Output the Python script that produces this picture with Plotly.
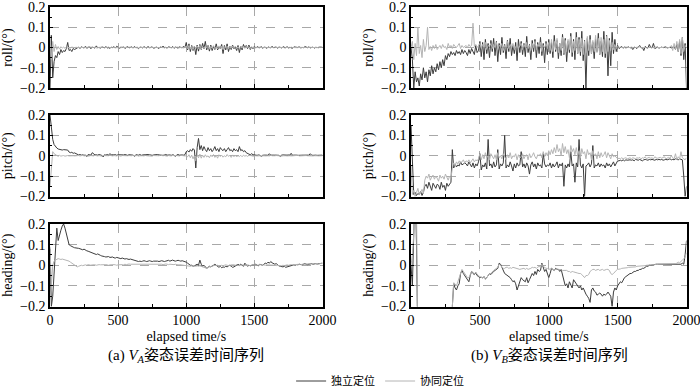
import plotly.graph_objects as go

# ---------------- data (values in milli-degrees, sampled every 10 s) ----------------
T = list(range(0, 2001, 10))

roll_a_ind = [-200, 60, -150, -70, -40, -50, -20, -35, -10, -25, -15, -20, -5, 25, -15, -10, -20, -5, -10, -5,
    -3, 2, -5, 4, 0, -2, 6, -4, 1, 3, -6, 2, 0, -3, 8, -2, 1, -4, 3, 0,
    -2, 5, -3, 1, -5, 2, 0, 4, -3, 6, -1, -4, 2, 0, 3, -5, 1, 4, -2, 0,
    3, -3, 5, -1, 0, -6, 2, 1, -2, 4, 0, -3, 6, -2, 1, 3, -4, 0, 2, -1,
    -5, 3, 0, 7, -2, 1, -3, 4, 0, -2, 5, -4, 2, 0, -3, 3, 1, -2, 6, -1,
    25, -12, 18, -20, 10, -15, 6, -35, 12, -18, 15, -10, 20, -6, 30, -12, 10, -18, 12, -15,
    6, -10, 18, -12, 3, -6, 15, -30, 10, -12, 18, -20, 6, -10, 12, -6, 3, -15, 10, -25,
    6, -12, 15, -3, 10, -6, 12, -10, 3, -6, 6,
    -3, 4, 0, -2, 5, -4, 1, 2, -5, 3, 0, -2, 6, -1, 0, 3, -4, 2, 1, -3,
    4, 0, -2, 5, -3, 1, 0, -4, 3, 2, -1, 0, 4, -3, 1, -2, 5, 0, -1, 3,
    -2, 0, 2, -3, 1, 0, -1, 2, 0, 1]

roll_a_coop = [60, -60, 30, -20, 15, -10, 5, -8, 4, -3, 2, -4, 3, -2, 1, -3, 2, 0, -1, 1,
    0, 1, -1, 2, 0, -2, 1, 0, -1, 1, 2, -1, 0, 1, -2, 0, 1, -1, 0, 2,
    -1, 0, 1, -2, 1, 0, -1, 2, 0, -1, 1, 0, -2, 1, 0, 1, -1, 0, 2, -1,
    0, 1, -1, 0, 2, -2, 1, 0, -1, 1, 0, -1, 2, 0, -1, 1, 0, -2, 1, 0,
    -1, 2, 0, -1, 1, 0, -2, 1, 2, -1, 0, 1, -1, 0, 2, -1, 0, 1, -2, 0,
    8, -6, 10, -8, 5, -10, 6, -4, 8, -6, 10, -7, 4, -5, 7, -3, 6, -8, 5, -4,
    9, -6, 3, -6, 8, -5, 6, -10, 4, -3, 7, -6, 5, -4, 8, -2, 6, -5, 3, -7,
    6, -4, 5, -3, 6, -2, 4, -5, 3, -2, 2,
    0, 1, -1, 2, 0, -1, 1, 0, -2, 1, 0, 1, -1, 0, 2, -1, 0, 1, -1, 0,
    1, -2, 0, 1, 0, -1, 2, 0, -1, 1, 0, -1, 1, 0, 2, -1, 0, 1, -1, 0,
    1, 0, -1, 1, 0, -1, 2, 0, 1, 0]

pitch_a_ind = [200, 130, 80, 55, 45, 38, 33, 30, 30, 28, 30, 29, 30, 28, 18, 15, 17, 12, 14, 10,
    5, 4, 6, 3, 5, 2, 4, -4, 6, 5, 3, 15, 8, 4, 5, 3, 6, 4, 2, -6,
    5, 3, 6, 4, 10, 5, 3, 4, 6, 2, 5, 4, 3, 5, 4, 6, 3, 2, 5, 4,
    6, 3, -3, 5, 4, 3, 6, 2, 4, 5, 3, 4, 6, 5, 3, 2, 4, 5, 3, 6,
    4, 3, 5, 2, 4, 6, 3, 5, 4, 2, 5, 3, -4, 4, 6, 3, 5, 4, 3, 5,
    20, 25, 18, 30, 22, 35, 28, -60, 40, 85, 30, 50, 25, 45, 30, 20, 40, 25, 35, 20,
    30, 45, 25, 35, 20, 40, 30, 25, 35, 20, 30, 40, 25, 30, 20, 35, 25, 30, 20, 45,
    25, 30, 20, 25, 15, 10, 8, 5, 10, 5, 3,
    3, 2, 4, 3, -4, 2, 3, 4, 3, 2, 10, 3, 4, 2, 3, 3, 4, 2, -3, 3,
    4, 3, 2, 3, 4, 3, 12, 2, 3, 4, 3, 2, 3, 4, 2, 3, 3, 4, 2, 3,
    10, 3, 2, 4, 3, 2, 3, 4, 3, 3]

pitch_a_coop = [-150, -50, 20, 10, 5, 0, -3, 2, -2, 0, 1, -2, 0, 1, -1, 0, 2, 0, -1, 0,
    0, 1, -1, 0, 2, -1, 0, 1, -2, 0, 1, 0, -1, 2, 0, -1, 1, 0, -2, 1,
    0, 1, -1, 0, 2, 0, -1, 1, 0, -1, 2, 0, -2, 1, 0, 1, -1, 0, 1, -1,
    0, 2, -1, 0, 1, -2, 0, 1, 0, -1, 2, 0, -1, 1, 0, -2, 1, 0, 1, -1,
    0, 2, -1, 0, 1, 0, -2, 1, 0, -1, 2, 0, -1, 1, 0, -1, 2, 0, 1, -1,
    0, -5, 5, -10, 3, -15, 0, -25, 5, -10, 8, -12, 3, -8, 5, -6, 0, -10, 4, -5,
    6, -8, 2, -12, 5, -4, 3, -7, 0, -5, 6, -3, 2, -8, 4, -5, 3, -6, 1, -4,
    2, -5, 3, -2, 1, -3, 2, -1, 0, -2, 1,
    0, -1, 1, 0, -2, 1, 0, -1, 1, 0, -1, 2, 0, -1, 0, 1, -1, 0, 1, -2,
    0, 1, 0, -1, 1, 0, -1, 0, 1, -1, 0, 2, -1, 0, 1, -1, 0, 1, 0, -1,
    1, 0, -1, 0, 1, 0, -1, 1, 0, 0]

heading_a_ind = [80, -200, -150, -50, 50, 180, 120, 150, 170, 190, 200, 180, 150, 120, 100, 95, 90, 88, 85, 85,
    85, 82, 80, 78, 75, 78, 72, 70, 68, 65, 62, 60, 58, 55, 52, 55, 50, 48, 45, 45,
    42, 40, 40, 42, 38, 38, 40, 36, 35, 38, 35, 34, 32, 35, 32, 30, 32, 30, 28, 30,
    28, 25, 25, 22, 20, 18, 20, 18, 20, 22, 20, 18, 20, 22, 20, 18, 20, 20, 22, 20,
    18, 20, 22, 20, 18, 20, 22, 24, 20, 22, 25, 22, 20, 22, 24, 22, 20, 22, 20, 18,
    15, 10, 5, 0, 0, -5, -3, 0, 5, 0, 25, 5, -5, 0, -10, -15, -10, -5, -8, -5,
    0, 5, 0, -5, -10, -5, -12, -8, -10, -5, -8, -3, 0, -5, -10, -8, -5, 0, 5, 0,
    5, 0, -5, 10, 0, -5, 0, -3, 0, 2, 0, 5, 0, -3, 5, 2, 0, 5, 10, 8,
    15, 10, 18, 12, 10, 5, 8, 0, -3, -5, -8, -8, -5, -10, -8, -5, -3, 0, 0, 2,
    0, 3, 2, 5, 3, 2, 5, 8, 5, 3, 5, 6, 8, 5, 7, 8, 6, 8, 10, 9, 10]

heading_a_coop = [90, -100, 0, 20, 25, 30, 32, 30, 28, 30, 28, 26, 25, 22, 20, 15, 10, 5, 0, -5,
    -8, -5, -3, 0, -2, 0, 2, 0, 3, 2, 0, 2, 3, 2, 0, 2, 3, 2, 3, 2,
    2, 3, 2, 0, 2, 3, 2, 3, 2, 0, 2, 3, 5, 3, 2, 5, 3, 5, 6, 5,
    5, 6, 5, 8, 6, 5, 6, 8, 5, 6, 5, 6, 8, 6, 5, 6, 8, 6, 5, 6,
    5, 6, 5, 3, 5, 6, 5, 3, 5, 4, 5, 3, 5, 3, 2, 3, 2, 0, 2, 0,
    0, -2, -3, -5, -3, -5, -3, -5, -3, -5, -3, -5, -8, -10, -12, -15, -10, -8, -5, -3,
    -3, 0, -2, 0, -2, -3, 0, -2, 0, 2, 0, -2, 0, 2, 3, 2, 0, 2, 0, -2,
    0, 2, 0, -2, 0, 2, 0, -2, 0, 2, 0, 2, 0, 2, 3, 2, 0, 2, 0, 2,
    2, 3, 2, 0, 2, 0, -2, 0, -2, -3, -2, 0, -2, 0, 2, 0, 2, 3, 2, 3,
    3, 5, 3, 5, 3, 5, 6, 5, 6, 5, 6, 8, 6, 8, 6, 8, 8, 6, 8, 9, 10]

roll_b_ind = [0, -60, -200, -120, -170, -150, -190, -130, -160, -100, -150, -120, -170, -110, -140, -90, -130, -100, -120, -80,
    -110, -70, -100, -60, -90, -40, -60, -30, -45, -20, -35, -25, -40, -15, -30, -20, -35, -10, -30, -15,
    -25, -40, -10, -30, -5, -20, -35, 10, -25, -15, 30, -45, 25, -60, 40, -30, 20, -50, 35, -20,
    45, -40, 30, -70, 20, -35, 50, -25, 15, -55, 35, -20, 45, -40, 10, -30, 25, -65, 40, -25,
    30, -35, 20, -45, 55, -25, 15, -60, 35, -20, 40, -50, 25, -30, 50, -40, 20, -75, 30, -35,
    40, -30, 25, -50, 60, -20, 35, -55, 20, -40, 65, -35, 45, -70, 30, -25, 70, -45, 40, -60,
    75, -30, 50, -40, 80, -65, 35, -200, 45, -40, 60, -30, 25, -55, 40, -20, 70, -35, 30, -45,
    80, -50, 60, -140, 45, -90, 75, -30, 40, -20, 10, -5, 0, 5, -3, 2, -2, 0, 3, -2,
    0, -10, 2, 0, -5, 3, 10, -2, 0, -15, 5, 0, -3, 15, 0, -2, 20, -5, 0, 2,
    -3, 0, 2, -1, 0, 3, -2, 0, 1, -2, 0, 5, -10, 15, -20, 30, -40, 50, -60, 20, -200]

roll_b_coop = [0, 30, -60, 20, -40, 100, -30, 10, -50, 40, -20, 10, 100, -10, 5, -15, 10, -5, 15, -10,
    0, 10, -5, 15, 0, 5, -10, 20, 0, 10, -5, 15, 5, 0, 10, 20, -5, 10, 0, 5,
    10, 0, 15, 5, 10, 120, 5, 15, 0, 10, 20, -5, 15, 0, 25, -10, 10, 5, 20, -5,
    15, 0, 25, -10, 10, 5, 20, -15, 10, 0, 30, -5, 15, 0, 20, -10, 5, 15, -5, 10,
    20, -10, 15, 0, 25, -5, 10, -15, 20, 0, 30, -10, 15, 5, 25, -20, 10, 0, 20, -5,
    25, -15, 40, -20, 30, -10, 45, -25, 20, -15, 50, -30, 35, -20, 40, -10, 55, -25, 30, -15,
    50, -30, 40, -20, 45, -35, 30, -25, 55, -15, 40, -30, 35, -20, 60, -25, 45, -35, 50, -20,
    40, -30, 55, -20, 35, -15, 25, -10, 15, -5, 5, 0, 2, 0, -2, 0, 3, 0, -1, 0,
    2, 0, -2, 0, 1, 0, 3, -1, 0, 2, 0, -2, 0, 1, 0, 2, -1, 0, 3, 0,
    0, 2, -1, 0, 3, -2, 0, 1, 0, 10, -15, 20, -10, 30, -20, 40, -30, 50, -20, 10, 0]

pitch_b_ind = [150, -80, -190, -180, -195, -185, -190, -175, -195, -180, -150, -140, -160, -130, -155, -170, -135, -150, -160, -140,
    -145, -165, -130, -155, -145, -170, -135, -150, -140, -130, 30, -60, -40, -55, -45, -50, -30, -45, -40, -35,
    -40, -50, -30, -45, -55, -35, -60, -40, -50, -30, 10, -70, -45, -55, -35, -65, 80, -50, -40, -60,
    -30, -55, -45, 30, -65, -40, -50, -35, 100, -60, -45, -55, -30, -50, -75, -40, -60, -35, -50, -45,
    20, -55, -40, -60, -35, -50, -90, -45, -30, -55, -40, -65, -35, -50, -45, -60, 10, -40, -55, -45,
    -50, -35, -60, -40, -55, -45, -30, -60, -40, -50, -35, -150, -45, -60, -40, -55, 20, -50, -40, -130,
    -35, -55, 80, -45, -60, -40, -200, -50, -45, -35, -55, -40, 50, -60, -45, -50, -35, -55, -40, -50,
    -45, -60, -35, -50, -40, -55, -45, -30, -50, -40, -25, -25, -22, -25, -20, -25, -20, -22, -20, -20,
    -22, -20, -25, -18, -20, -22, -18, -20, -25, -20, -18, -20, -22, -18, -20, -18, -20, -22, -18, -20,
    -18, -20, -18, -22, -20, -18, -20, -18, -15, -20, -18, -20, -15, -18, -20, -15, -18, -20, -100, -200, -150]

pitch_b_coop = [-50, -190, -170, -200, -180, -160, -190, -175, -165, -185, -120, -100, -110, -90, -120, -105, -95, -115, -100, -110,
    -125, -95, -110, -100, -115, -90, -105, -120, -100, -110, -60, -35, -50, -30, -40, -25, -35, -30, -20, -35,
    -25, -30, -20, -35, -25, -15, -30, -20, -25, -15, 10, -20, 5, -15, 15, -10, 0, -20, 10, -5,
    -15, 5, -20, 15, -10, 0, -15, 10, -5, -20, 5, -10, 15, -15, 0, -5, 10, -20, 5, -10,
    -5, 10, -15, 0, 5, -20, 10, -10, 0, 15, -5, -15, 5, 0, 10, -10, 20, -5, 15, 0,
    25, 5, 30, 10, 40, 15, 55, 20, 35, 0, 60, 15, 45, 10, 30, -10, 50, 20, 35, 5,
    40, 0, 25, -10, 35, 10, 20, -15, 30, 5, 15, -20, 25, 0, 10, -15, 20, -10, 15, -5,
    5, 20, -10, 15, 0, -15, 10, -5, 0, -10, -15, -12, -15, -10, -15, -12, -10, -15, -12, -10,
    -15, -10, -12, -15, -10, -12, -8, -15, -10, -12, -5, -15, -10, -8, -12, -10, -15, -5, -10, -12,
    -10, -8, -12, -10, -5, -15, -10, -8, -12, 0, -10, -15, 10, -20, -5, -15, 20, -10, -15, -20, -10]

heading_b_ind = [0, -100, 150, 400, 100, -400, -500, -500, -500, -500, -500, -500, -500, -500, -500, -500, -500, -500, -500, -500,
    -500, -500, -500, -500, -500, -500, -500, -500, -500, -500, -200, -90, -110, -120, -100, -90, -40, -25, -40, -50,
    -60, -70, -80, -50, -30, -40, -45, -35, -50, -55, -60, -58, -62, -55, -65, -60, -50, -40, -45, -35,
    -30, -25, -20, -15, 10, 5, -10, -30, -40, -45, -50, -55, -60, -70, -80, -75, -90, -120, -100, -70,
    -60, -70, -75, -80, -60, -85, -70, -50, -40, -50, -30, -45, -20, -30, -25, 10, -10, -30, -20, -40,
    -60, -40, -15, -20, -25, -15, -20, -20, -30, -20, -50, -80, -100, -90, -110, -80, -100, -110, -70, -80,
    -90, -100, -110, -100, -120, -110, -130, -140, -150, -160, -180, -120, -110, -125, -130, -145, -140, -135, -140, -150,
    -140, -145, -140, -130, -140, -150, -200, -130, -110, -120, -100, -90, -80, -85, -70, -60, -55, -50, -45, -40,
    -40, -35, -30, -30, -25, -25, -20, -20, -15, -15, -10, -5, -5, 0, 0, 2, 3, 3, 5, 5,
    5, 5, 5, 5, 5, 5, 5, 5, 5, 5, 5, 5, 5, 5, 5, 5, 5, 10, 5, 50, 120]

heading_b_coop = [0, 50, 150, 500, 300, -500, -500, -500, -500, -500, -500, -500, -500, -500, -500, -500, -500, -500, -500, -500,
    -500, -500, -500, -500, -500, -500, -500, -500, -500, -500, -200, -85, -90, -100, -80, -60, -30, -20, -30, -40,
    -50, -60, -60, -40, -30, -35, -40, -35, -45, -50, -55, -60, -62, -55, -70, -60, -50, -40, -40, -30,
    -25, -20, -15, -10, 5, 0, -10, -15, -15, -10, -10, -15, -12, -15, -10, -12, -15, -15, -20, -20,
    -18, -15, -15, -20, -15, -20, -18, -15, -10, -12, -10, -15, -10, -5, -10, 5, -5, -10, -15, -15,
    -20, -18, -15, -20, -22, -20, -18, -20, -20, -22, -25, -25, -28, -25, -30, -30, -35, -30, -32, -35,
    -35, -38, -40, -40, -45, -55, -60, -50, -50, -45, -30, -25, -20, -20, -25, -22, -20, -25, -22, -20,
    -25, -22, -20, -20, -25, -40, -45, -40, -30, -25, -20, -20, -18, -15, -15, -15, -12, -12, -10, -10,
    -10, -8, -8, -8, -5, -5, -5, -5, -3, -3, -2, 0, 0, 2, 2, 3, 3, 3, 5, 5,
    5, 5, 5, 5, 5, 5, 5, 5, 5, 5, 5, 5, 8, 10, 15, 12, 20, 25, 30, 40, 60]

Y_TITLES = ["roll/(°)", "pitch/(°)", "heading/(°)"]
SERIES_NAMES = ["独立定位", "协同定位"]
X_TICKS = [0, 500, 1000, 1500, 2000]
Y_TICKS = [-0.2, -0.1, 0, 0.1, 0.2]
Y_TICKTEXT = ["−0.2", "−0.1", "0", "0.1", "0.2"]

panels = [
    [(roll_a_ind, roll_a_coop), (roll_b_ind, roll_b_coop)],
    [(pitch_a_ind, pitch_a_coop), (pitch_b_ind, pitch_b_coop)],
    [(heading_a_ind, heading_a_coop), (heading_b_ind, heading_b_coop)],
]

# ---------------- layout geometry ----------------
W, H = 700, 388
col_x = [(50 / W, 322.5 / W), (411 / W, 686.5 / W)]
row_y = [(1 - 88 / H, 1 - 7 / H), (1 - 196.5 / H, 1 - 115 / H), (1 - 306.5 / H, 1 - 224 / H)]
DARK = "#3c3c3c"
LIGHT = "#b4b4b4"
SERIF = "Liberation Serif, Times New Roman, serif"
CJK = "Noto Sans CJK SC"

fig = go.Figure()
layout = {}
k = 0
for r in range(3):
    for c in range(2):
        k += 1
        xa = "x" if k == 1 else f"x{k}"
        ya = "y" if k == 1 else f"y{k}"
        ind, coop = panels[r][c]
        for vals, color, name in ((ind, DARK, SERIES_NAMES[0]), (coop, LIGHT, SERIES_NAMES[1])):
            fig.add_trace(go.Scatter(
                x=T, y=[v / 1000 for v in vals], mode="lines", name=name,
                line=dict(color=color, width=1), xaxis=xa, yaxis=ya,
                showlegend=(k == 1), legendgroup=name,
            ))
        xaxis = dict(
            domain=col_x[c], anchor=ya, range=[0, 2000], automargin=False,
            tickvals=X_TICKS, showticklabels=(r == 2), ticklabeloverflow="allow",
            ticks="inside", ticklen=4, tickcolor="black",
            minor=dict(dtick=250, ticks="inside", ticklen=3, tickcolor="black", showgrid=False),
            showgrid=True, gridcolor="#a8a8a8", griddash="dash", gridwidth=1,
            showline=True, linecolor="black", linewidth=1.5, mirror=True,
            zeroline=False, tickfont=dict(family=SERIF, size=14, color="black"),
        )
        if r == 2:
            xaxis["title"] = dict(text="elapsed time/s",
                                  font=dict(family=SERIF, size=14, color="black"), standoff=4)
        layout[f"xaxis{k}" if k > 1 else "xaxis"] = xaxis
        layout[f"yaxis{k}" if k > 1 else "yaxis"] = dict(
            domain=row_y[r], anchor=xa, range=[-0.2, 0.2], automargin=False,
            tickvals=Y_TICKS, ticktext=Y_TICKTEXT, ticklabeloverflow="allow",
            ticks="inside", ticklen=3, tickcolor="black",
            minor=dict(dtick=0.05, ticks="inside", ticklen=2, tickcolor="black", showgrid=False),
            showgrid=True, gridcolor="#a8a8a8", griddash="dash", gridwidth=1,
            showline=True, linecolor="black", linewidth=1.5, mirror=True,
            zeroline=False, tickfont=dict(family=SERIF, size=14, color="black"),
            title=dict(text=Y_TITLES[r], font=dict(family=SERIF, size=14, color="black"), standoff=4),
        )

fig.update_layout(**layout)
fig.update_layout(
    width=W, height=H, margin=dict(l=0, r=0, t=0, b=0, autoexpand=False),
    paper_bgcolor="white", plot_bgcolor="white",
    showlegend=True,
    legend=dict(orientation="h", x=0.543, xanchor="center", y=1 - 381 / H, yanchor="middle",
                font=dict(family=CJK, size=11, color="black"), bgcolor="rgba(0,0,0,0)",
                itemwidth=30, tracegroupgap=0),
    annotations=[
        dict(text="(a) <i>V<sub>A</sub></i>姿态误差时间序列", x=186 / W, y=1 - 356 / H,
             xref="paper", yref="paper", showarrow=False, xanchor="center", yanchor="middle",
             font=dict(family=SERIF + ", " + CJK, size=15, color="black")),
        dict(text="(b) <i>V<sub>B</sub></i>姿态误差时间序列", x=549 / W, y=1 - 356 / H,
             xref="paper", yref="paper", showarrow=False, xanchor="center", yanchor="middle",
             font=dict(family=SERIF + ", " + CJK, size=15, color="black")),
    ],
)

fig.write_html("out.html", config={"displayModeBar": False},
               post_script="document.body.style.margin='0';")
